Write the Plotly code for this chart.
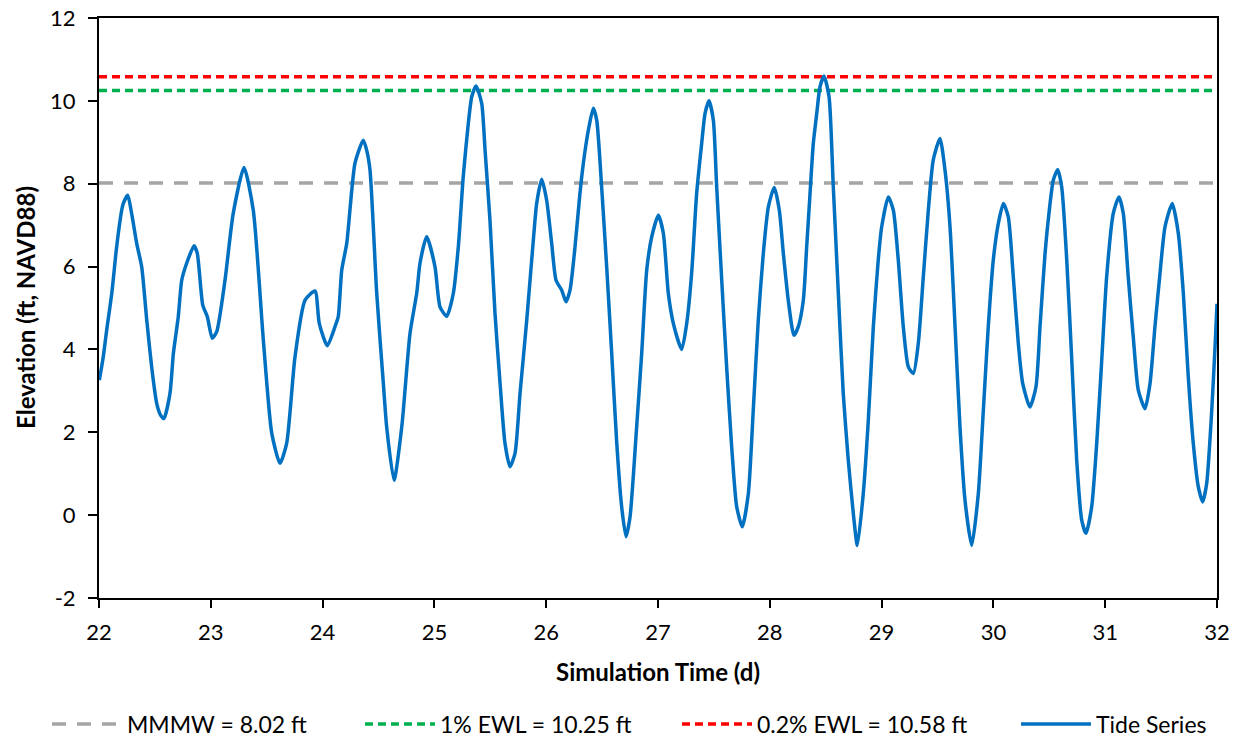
import plotly.graph_objects as go

# ---- Data ----
time_d = [22.003, 22.038, 22.069, 22.114, 22.158, 22.203, 22.217, 22.257, 22.292, 22.337,
          22.382, 22.427, 22.471, 22.516, 22.552, 22.581, 22.635, 22.665, 22.709, 22.740,
          22.784, 22.850, 22.879, 22.928, 22.969, 23.013, 23.053, 23.127, 23.201, 23.297,
          23.380, 23.470, 23.545, 23.619, 23.679, 23.753, 23.843, 23.932, 23.970, 24.042,
          24.111, 24.140, 24.171, 24.216, 24.290, 24.364, 24.394, 24.424, 24.484, 24.543,
          24.573, 24.639, 24.708, 24.782, 24.842, 24.871, 24.931, 25.005, 25.050, 25.110,
          25.169, 25.214, 25.258, 25.303, 25.334, 25.372, 25.423, 25.453, 25.497, 25.542,
          25.587, 25.631, 25.676, 25.721, 25.766, 25.826, 25.885, 25.915, 25.960, 26.004,
          26.049, 26.088, 26.139, 26.177, 26.213, 26.258, 26.302, 26.332, 26.377, 26.421,
          26.452, 26.496, 26.541, 26.586, 26.631, 26.675, 26.714, 26.750, 26.809, 26.854,
          26.899, 26.944, 27.003, 27.048, 27.092, 27.137, 27.212, 27.257, 27.301, 27.346,
          27.391, 27.421, 27.456, 27.495, 27.525, 27.570, 27.614, 27.659, 27.704, 27.754,
          27.808, 27.852, 27.897, 27.942, 27.987, 28.040, 28.085, 28.121, 28.165, 28.216,
          28.255, 28.300, 28.330, 28.360, 28.389, 28.420, 28.449, 28.485, 28.530, 28.568,
          28.613, 28.657, 28.702, 28.747, 28.783, 28.836, 28.881, 28.926, 28.970, 29.001,
          29.060, 29.105, 29.149, 29.194, 29.239, 29.284, 29.328, 29.373, 29.418, 29.462,
          29.522, 29.567, 29.612, 29.657, 29.701, 29.746, 29.806, 29.865, 29.910, 29.954,
          29.999, 30.044, 30.089, 30.133, 30.178, 30.223, 30.262, 30.327, 30.381, 30.417,
          30.462, 30.500, 30.536, 30.575, 30.611, 30.656, 30.701, 30.745, 30.790, 30.828,
          30.879, 30.924, 30.969, 31.013, 31.072, 31.123, 31.162, 31.206, 31.251, 31.296,
          31.356, 31.401, 31.445, 31.490, 31.535, 31.600, 31.654, 31.699, 31.743, 31.788,
          31.833, 31.872, 31.908, 31.953, 31.985, 32.000]
tide_ft = [3.26, 3.82, 4.47, 5.35, 6.48, 7.36, 7.52, 7.72, 7.28, 6.56,
           5.99, 4.71, 3.58, 2.70, 2.41, 2.33, 2.94, 3.90, 4.79, 5.67,
           6.08, 6.50, 6.32, 5.07, 4.79, 4.27, 4.43, 5.67, 7.29, 8.39,
           7.36, 4.22, 1.98, 1.25, 1.74, 3.82, 5.19, 5.41, 4.63, 4.09,
           4.55, 4.79, 5.91, 6.56, 8.50, 9.05, 8.81, 8.33, 5.36, 3.19,
           2.13, 0.84, 2.13, 4.39, 5.36, 6.08, 6.72, 6.00, 5.03, 4.80,
           5.35, 6.48, 8.17, 9.45, 10.10, 10.36, 9.94, 8.81, 7.12, 4.87,
           3.19, 1.74, 1.17, 1.49, 2.94, 4.71, 6.64, 7.53, 8.11, 7.60,
           6.56, 5.67, 5.43, 5.15, 5.43, 6.48, 7.77, 8.49, 9.29, 9.82,
           9.53, 7.92, 5.99, 3.90, 1.74, 0.20, -0.52, -0.04, 2.13, 3.90,
           5.91, 6.72, 7.24, 6.80, 5.36, 4.63, 4.00, 4.63, 5.84, 7.77,
           8.98, 9.70, 10.00, 9.53, 7.92, 5.67, 3.58, 1.65, 0.20, -0.28,
           0.52, 2.53, 4.71, 6.32, 7.44, 7.91, 7.36, 6.32, 5.19, 4.34,
           4.55, 5.19, 6.48, 7.77, 8.97, 9.70, 10.34, 10.60, 10.10, 7.92,
           5.36, 2.94, 1.33, 0.04, -0.73, 0.52, 2.29, 4.55, 6.16, 6.96,
           7.68, 7.36, 6.16, 4.55, 3.58, 3.42, 4.14, 5.75, 7.36, 8.57,
           9.09, 8.33, 6.96, 4.55, 2.13, 0.36, -0.73, 0.52, 2.53, 4.55,
           6.16, 7.04, 7.52, 7.20, 5.75, 4.14, 3.18, 2.61, 3.10, 4.55,
           6.32, 7.36, 8.09, 8.34, 7.92, 6.16, 3.74, 1.33, -0.12, -0.44,
           0.20, 1.73, 3.74, 5.75, 7.28, 7.68, 7.28, 5.75, 4.30, 3.02,
           2.57, 3.18, 4.55, 5.83, 6.96, 7.52, 6.80, 5.35, 3.34, 1.73,
           0.68, 0.32, 0.77, 2.53, 4.20, 5.10]

ref_x = [22, 32]
mmmw_ft = 8.02
ewl_1pct_ft = 10.25
ewl_02pct_ft = 10.58

x_ticks = [22, 23, 24, 25, 26, 27, 28, 29, 30, 31, 32]
y_ticks = [-2, 0, 2, 4, 6, 8, 10, 12]

FONT = "Lato"
W, H = 1237, 740

fig = go.Figure()
fig.add_trace(go.Scatter(x=ref_x, y=[mmmw_ft] * 2, mode="lines",
                         name="MMMW = 8.02 ft", legend="legend",
                         line=dict(color="#A5A5A5", width=3.5, dash="14px,11px")))
fig.add_trace(go.Scatter(x=ref_x, y=[ewl_1pct_ft] * 2, mode="lines",
                         name="1% EWL = 10.25 ft", legend="legend2",
                         line=dict(color="#00B050", width=3.5, dash="8px,5px")))
fig.add_trace(go.Scatter(x=ref_x, y=[ewl_02pct_ft] * 2, mode="lines",
                         name="0.2% EWL = 10.58 ft", legend="legend3",
                         line=dict(color="#FF0000", width=3.5, dash="8px,5px")))
fig.add_trace(go.Scatter(x=time_d, y=tide_ft, mode="lines", name="Tide Series",
                         legend="legend4",
                         line=dict(color="#0070C0", width=3.5, shape="spline", smoothing=0.6)))

def leg(xpx):
    return dict(xref="container", yref="container", x=xpx / W, xanchor="left",
                y=(H - 724) / H, yanchor="middle", bgcolor="rgba(0,0,0,0)",
                font=dict(size=23, family=FONT), itemwidth=70)

fig.update_layout(
    width=W, height=H,
    margin=dict(l=99, r=20, t=18, b=142, autoexpand=False),
    paper_bgcolor="white", plot_bgcolor="white",
    font=dict(family=FONT, size=22, color="black"),
    showlegend=True,
    legend=leg(47), legend2=leg(360), legend3=leg(677), legend4=leg(1016),
)
fig.update_xaxes(range=[22, 32], tickvals=x_ticks, ticktext=[str(v) for v in x_ticks],
                 showgrid=False, zeroline=False, showline=True, linecolor="black",
                 linewidth=2, mirror=True, ticks="outside", ticklen=8, tickwidth=2,
                 tickcolor="black", tickfont=dict(size=22), ticklabelstandoff=6,
                 ticklabeloverflow="allow",
                 title=dict(text="<b>Simulation Time (d)</b>", font=dict(size=24), standoff=20))
fig.update_yaxes(range=[-2, 12], tickvals=y_ticks, ticktext=[str(v) for v in y_ticks],
                 showgrid=False, zeroline=False, showline=True, linecolor="black",
                 linewidth=2, mirror=True, ticks="outside", ticklen=9, tickwidth=2,
                 tickcolor="black", tickfont=dict(size=22), ticklabelstandoff=8,
                 ticklabeloverflow="allow")
fig.add_annotation(text="<b>Elevation (ft, NAVD88)</b>", textangle=-90,
                   xref="paper", yref="paper", x=0, y=0.5, xshift=-74,
                   xanchor="center", yanchor="middle", showarrow=False,
                   font=dict(size=24, family=FONT, color="black"))

fig.write_html("out.html", config={"displayModeBar": False},
               post_script="document.body.style.margin='0px';")
